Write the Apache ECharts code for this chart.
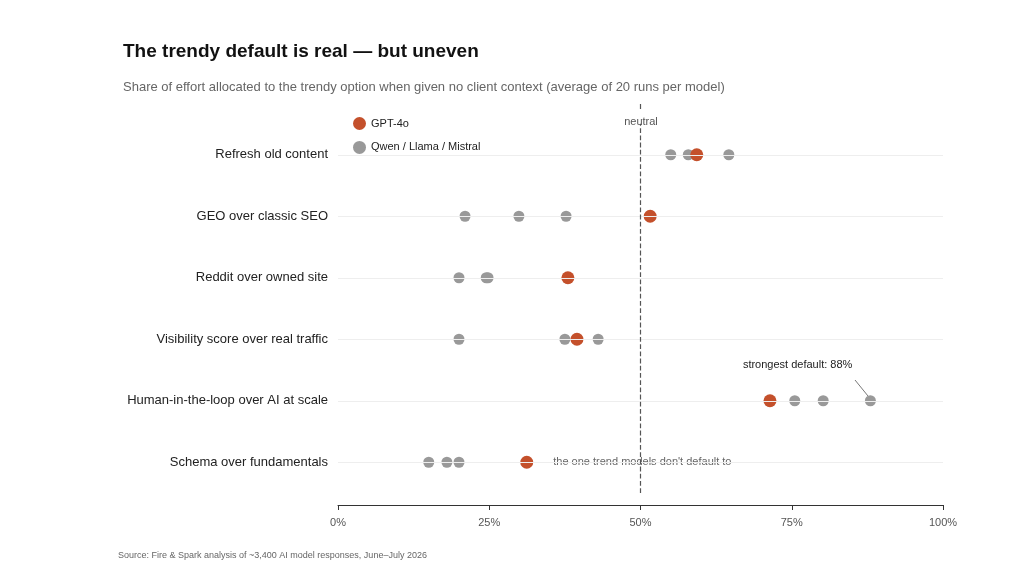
<html>
<head>
<style>* { margin: 0; padding: 0; } #c { width: 1030px; height: 568px; }</style>
</head>
<body>
<div id="c"></div>
<script src="https://cdn.jsdelivr.net/npm/echarts@6/dist/echarts.min.js"></script>
<script>
// rows listed bottom to top
const categories = ['Schema over fundamentals', 'Human-in-the-loop over AI at scale',
  'Visibility score over real traffic', 'Reddit over owned site',
  'GEO over classic SEO', 'Refresh old content'];
const gpt4o = [31.2, 71.4, 39.5, 38, 51.6, 59.3];
const others = [
  [15, 18, 20],
  [75.5, 80.2, 88],
  [20, 37.5, 43],
  [20, 24.5, 24.8],
  [21, 29.9, 37.7],
  [55, 57.9, 64.6]
];
const xTicks = [0, 25, 50, 75, 100];

const RED = '#c4502b', GREY = '#999999';
let greyData = [];
others.forEach((vals, i) => vals.forEach(v => {
  let item = { value: [v, categories[i]] };
  if (v === 88) item.label = {
    show: true, formatter: 'strongest default: 88%', position: [-122, -40],
    color: '#222', fontSize: 11
  };
  greyData.push(item);
}));
const redData = gpt4o.map((v, i) => {
  let item = { value: [v, categories[i]] };
  if (i === 0) item.label = {
    show: true, position: 'right', distance: 16, formatter: "the one trend models don't default to",
    color: '#666', fontSize: 11, backgroundColor: '#fff', padding: [2, 4]
  };
  return item;
});

const chart = echarts.init(document.getElementById('c'));
chart.setOption({
  animation: false,
  textStyle: { fontFamily: '"Liberation Sans", Arial, sans-serif' },
  title: {
    text: 'The trendy default is real \u2014 but uneven',
    subtext: 'Share of effort allocated to the trendy option when given no client context (average of 20 runs per model)',
    left: 118, top: 30, itemGap: 8,
    textStyle: { fontSize: 19, fontWeight: 'bold', color: '#111' },
    subtextStyle: { fontSize: 13, color: '#666' }
  },
  graphic: [
    { type: 'text', left: 118, top: 548, style: { text: 'Source: Fire & Spark analysis of ~3,400 AI model responses, June\u2013July 2026', fontSize: 9, fill: '#666' } },
    { type: 'line', shape: { x1: 855, y1: 380, x2: 868, y2: 396 }, style: { stroke: '#777', lineWidth: 1 } },
    { type: 'line', shape: { x1: 640.5, y1: 104, x2: 640.5, y2: 124 }, style: { stroke: '#555', lineWidth: 1.2, lineDash: [5, 4] } },
    { type: 'text', x: 641, y: 111, style: { text: 'neutral', fontSize: 11, fill: '#555', align: 'center', backgroundColor: '#fff', padding: [1, 2] } }
  ],
  legend: {
    orient: 'vertical', left: 348, top: 109, itemGap: 5, icon: 'circle',
    itemWidth: 13, itemHeight: 13, textStyle: { fontSize: 11, color: '#222' },
    data: ['GPT-4o', 'Qwen / Llama / Mistral']
  },
  grid: { left: 338, right: 87, top: 124, bottom: 75 },
  xAxis: {
    type: 'value', min: 0, max: 100, interval: 25, offset: 12,
    axisLine: { show: true, lineStyle: { color: '#333' } },
    axisTick: { show: true, length: 5, lineStyle: { color: '#333' } },
    axisLabel: { formatter: v => xTicks.includes(v) ? v + '%' : '', color: '#555', fontSize: 11 },
    splitLine: { show: false }
  },
  yAxis: {
    type: 'category', data: categories,
    axisLine: { show: false }, axisTick: { show: false },
    axisLabel: { color: '#222', fontSize: 13, margin: 10 }
  },
  series: [
    {
      name: 'rows', type: 'scatter', data: [], silent: true,
      markLine: {
        symbol: 'none', silent: true, label: { show: false },
        lineStyle: { color: '#eee', type: 'solid', width: 1 },
        data: categories.map(c => ({ yAxis: c }))
      }
    },
    {
      name: 'neutral', type: 'scatter', data: [], silent: true,
      markLine: {
        symbol: 'none', silent: true,
        lineStyle: { color: '#555', type: 'dashed', width: 1.2 },
        label: { show: false },
        data: [{ xAxis: 50 }]
      }
    },
    {
      name: 'Qwen / Llama / Mistral', type: 'scatter', symbolSize: 11, data: greyData,
      itemStyle: { color: GREY, opacity: 1 }
    },
    {
      name: 'GPT-4o', type: 'scatter', symbolSize: 13, data: redData,
      itemStyle: { color: RED, opacity: 1 }
    }
  ]
});
</script>
</body>
</html>
